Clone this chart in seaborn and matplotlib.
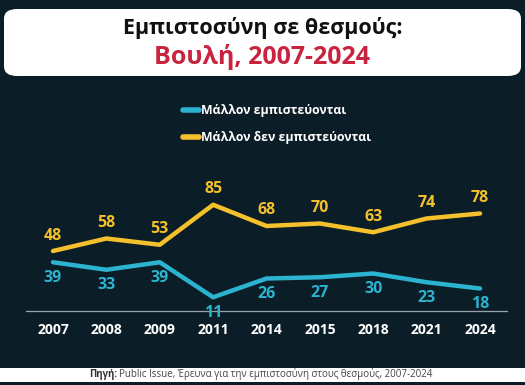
import numpy as np
import pandas as pd
import matplotlib.pyplot as plt
import seaborn as sns
from matplotlib.patches import FancyBboxPatch, Rectangle

years = ['2007', '2008', '2009', '2011', '2014', '2015', '2018', '2021', '2024']
trust = [39, 33, 39, 11, 26, 27, 30, 23, 18]
distrust = [48, 58, 53, 85, 68, 70, 63, 74, 78]
series_names = ['Μάλλον εμπιστεύονται', 'Μάλλον δεν εμπιστεύονται']

bg = '#0b1e27'
blue = '#2bb3cf'
yellow = '#f4c02c'
red = '#c9243f'

df = pd.DataFrame({
    'year': years * 2,
    'value': trust + distrust,
    'series': [series_names[0]] * len(years) + [series_names[1]] * len(years),
})

sns.set_style('dark')
plt.rcParams['font.family'] = ['Open Sans', 'DejaVu Sans']

fig = plt.figure(figsize=(5.25, 3.85), dpi=100, facecolor=bg)

# title box
box = FancyBboxPatch((4 / 525, 1 - 76 / 385), 517 / 525, 67 / 385,
                     boxstyle='round,pad=0,rounding_size=0.025',
                     transform=fig.transFigure, facecolor='white', edgecolor='none')
fig.patches.append(box)
fig.text(0.5, 1 - 28 / 385, 'Εμπιστοσύνη σε θεσμούς:', ha='center', va='center',
         fontsize=15.5, fontweight='bold', color='#111111')
fig.text(0.5, 1 - 57 / 385, 'Βουλή, 2007-2024', ha='center', va='center',
         fontsize=18, fontweight='bold', color=red)

# footer band with source
fig.patches.append(Rectangle((0, 1 - 382 / 385), 1, 14 / 385, transform=fig.transFigure,
                             facecolor='white', edgecolor='none'))
fig.text(89 / 525, 1 - 374.5 / 385, 'Πηγή:', ha='left', va='center',
         fontsize=7, fontweight='bold', color='#333333')
fig.text(119 / 525, 1 - 374.5 / 385,
         'Public Issue, Έρευνα για την εμπιστοσύνη στους θεσμούς, 2007-2024',
         ha='left', va='center', fontsize=7, color='#444444')

ax = fig.add_axes([26.3 / 525, 74 / 385, 480.4 / 525, 125 / 385])
ax.set_facecolor(bg)

sns.lineplot(data=df, x='year', y='value', hue='series', palette=[blue, yellow],
             sort=False, linewidth=3.2, ax=ax, legend=True)
for line in ax.get_lines():
    line.set_solid_capstyle('round')
    line.set_solid_joinstyle('round')

for i, v in enumerate(distrust):
    ax.text(i, v + 6, str(v), ha='center', va='bottom', fontsize=11.5,
            fontweight='bold', color=yellow)
for i, v in enumerate(trust):
    ax.text(i, v - 6, str(v), ha='center', va='top', fontsize=11.5,
            fontweight='bold', color=blue)

ax.set_xlim(-0.5, len(years) - 0.5)
ax.set_ylim(0, 100)
ax.set_xlabel('')
ax.set_ylabel('')
ax.set_yticks([])
ax.grid(False)
for s in ['top', 'left', 'right']:
    ax.spines[s].set_visible(False)
ax.spines['bottom'].set_color('#9aa4a8')
ax.spines['bottom'].set_linewidth(0.9)
ax.set_xticks(range(len(years)))
ax.set_xticklabels(years, fontsize=10, fontweight='bold', color='white')
ax.tick_params(axis='x', which='major', length=0, pad=9)
ax.set_xticks(np.arange(-0.5, len(years), 1), minor=True)
ax.tick_params(axis='x', which='minor', direction='in', length=4, color='#9aa4a8', width=0.8)

handles, labels = ax.get_legend_handles_labels()
leg = ax.legend(handles, labels, loc='center left', bbox_to_anchor=(172 / 525, 1 - 124 / 385),
                bbox_transform=fig.transFigure, frameon=False, fontsize=8.8,
                handlelength=1.3, handletextpad=0.15, labelspacing=1.15)
for txt in leg.get_texts():
    txt.set_color('white')
    txt.set_fontweight('bold')
for lh in leg.get_lines():
    lh.set_linewidth(4)
    lh.set_solid_capstyle('round')

fig.savefig('out.png', dpi=100, facecolor=bg)
